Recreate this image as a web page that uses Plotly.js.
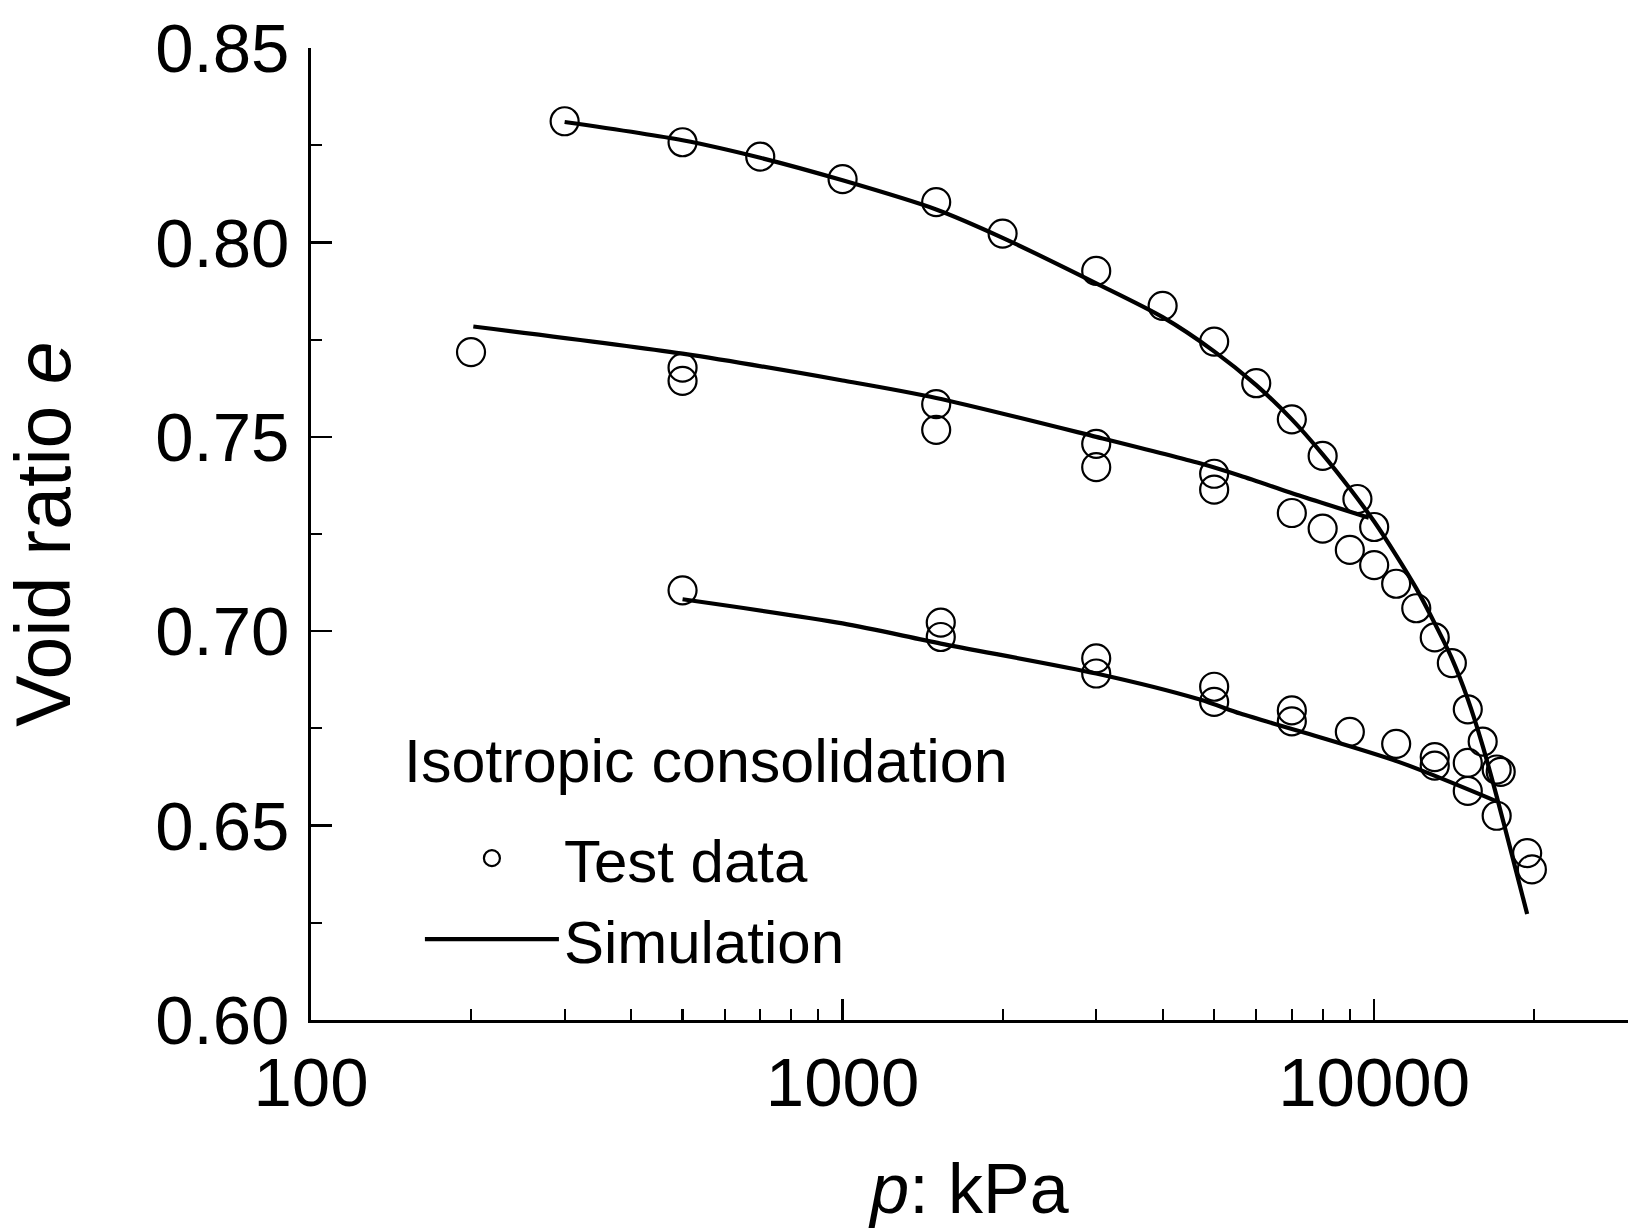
<!DOCTYPE html>
<html>
<head>
<meta charset="utf-8">
<script src="https://cdn.plot.ly/plotly-3.0.1.min.js"></script>
<style>html,body{margin:0;padding:0;background:#fff;}#chart{width:1632px;height:1230px;}</style>
</head>
<body>
<div id="chart"></div>
<script>
// ---- Test data (p in kPa, void ratio e) ----
const loadP = [300, 500, 700, 1000, 1500, 2000, 3000, 4000, 5000, 6000, 7000, 8000, 9300, 10000];
const loadE = [0.8312, 0.8258, 0.8221, 0.8163, 0.8104, 0.8023, 0.7927, 0.7837, 0.7745, 0.7638, 0.7545, 0.7451, 0.7340, 0.7268];

const unload1P = [200, 500, 500, 1500, 1500, 3000, 3000, 5000, 5000];
const unload1E = [0.7718, 0.7678, 0.7644, 0.7584, 0.7518, 0.7482, 0.7422, 0.7405, 0.7364];

const reloadP = [7000, 8000, 9000, 10000, 11000, 12000, 13000, 14000, 15000, 16000, 17000, 17300, 17000, 19400, 19800];
const reloadE = [0.7304, 0.7264, 0.7209, 0.7170, 0.7122, 0.7059, 0.6984, 0.6918, 0.6799, 0.6716, 0.6644, 0.6638, 0.6525, 0.6429, 0.6387];

const unload2P = [500, 1530, 1530, 3000, 3000, 5000, 5000, 7000, 7000, 9000, 11000, 13000, 13000, 15000, 15000];
const unload2E = [0.7105, 0.7022, 0.6985, 0.6930, 0.6891, 0.6857, 0.6818, 0.6796, 0.6768, 0.6741, 0.6710, 0.6676, 0.6654, 0.6661, 0.6589];

// ---- Simulation curves ----
const simNclP = [300, 500, 700, 1000, 1500, 2000, 3000, 4000, 5000, 6000, 7000, 8000, 9000, 10000, 11000, 12000, 13000, 14000, 15000, 16000, 17000, 18000, 19400];
const simNclE = [0.8310, 0.8263, 0.8218, 0.8160, 0.8085, 0.8012, 0.7895, 0.7808, 0.7720, 0.7633, 0.7545, 0.7455, 0.7367, 0.7282, 0.7195, 0.7110, 0.7020, 0.6930, 0.6825, 0.6705, 0.6575, 0.6445, 0.6272];

const simUn1P = [202, 500, 1000, 1500, 3000, 4700, 5600, 7300, 9770];
const simUn1E = [0.7784, 0.7714, 0.7645, 0.7600, 0.7500, 0.7432, 0.7400, 0.7347, 0.7292];

const simUn2P = [500, 1000, 1530, 3000, 4700, 5600, 7300, 11150, 17000];
const simUn2E = [0.7082, 0.7020, 0.6968, 0.6891, 0.6824, 0.6788, 0.6741, 0.6663, 0.6562];

// ---- Text ----
const xTitle = '<i>p</i>: kPa';
const yTitle = 'Void ratio <i>e</i>';
const legendTitle = 'Isotropic consolidation';
const nameData = 'Test data';
const nameSim = 'Simulation';

const FONT = 'Liberation Sans, Arial, Helvetica, sans-serif';

const markerStyle = {symbol: 'circle-open', size: 28, color: '#000', line: {color: '#000', width: 2.2}};
const lineStyle = {color: '#000', width: 4.2, shape: 'spline', smoothing: 0.8};

function pts(x, y, first) {
  return {x: x, y: y, type: 'scatter', mode: 'markers', name: nameData, legendgroup: 'data',
          showlegend: first, marker: markerStyle, hoverinfo: 'x+y'};
}
function sim(x, y, first) {
  return {x: x, y: y, type: 'scatter', mode: 'lines', name: nameSim, legendgroup: 'sim',
          showlegend: first, line: lineStyle, hoverinfo: 'x+y'};
}

const traces = [
  pts(loadP, loadE, true),
  pts(unload1P, unload1E, false),
  pts(reloadP, reloadE, false),
  pts(unload2P, unload2E, false),
  sim(simNclP, simNclE, true),
  sim(simUn1P, simUn1E, false),
  sim(simUn2P, simUn2E, false)
];

const layout = {
  width: 1632, height: 1230,
  margin: {l: 311, r: 4, t: 48, b: 210, pad: 0},
  paper_bgcolor: '#fff', plot_bgcolor: '#fff',
  font: {family: FONT, color: '#000', size: 69},
  showlegend: true,
  xaxis: {
    type: 'log', range: [2, 4.4775], dtick: 1, tickformat: 'd',
    showline: true, linecolor: '#000', linewidth: 2.7, mirror: false,
    showgrid: false, zeroline: false,
    ticks: 'inside', ticklen: 21, tickwidth: 2.5, tickcolor: '#000',
    tickfont: {family: FONT, size: 69, color: '#000'},
    minor: {dtick: 'D1', ticks: 'inside', ticklen: 11, tickwidth: 2.2, tickcolor: '#000', showgrid: false},
    title: {text: xTitle, font: {family: FONT, size: 70, color: '#000'}, standoff: 45}
  },
  yaxis: {
    range: [0.59995, 0.85005], tick0: 0.6, dtick: 0.05, tickformat: '.2f',
    showline: true, linecolor: '#000', linewidth: 2.7, mirror: false,
    showgrid: false, zeroline: false,
    ticks: 'inside', ticklen: 21, tickwidth: 2.5, tickcolor: '#000',
    ticklabelstandoff: 5,
    tickfont: {family: FONT, size: 69, color: '#000'},
    minor: {dtick: 0.025, ticks: 'inside', ticklen: 11, tickwidth: 2.2, tickcolor: '#000', showgrid: false},
    title: {text: yTitle, font: {family: FONT, size: 77, color: '#000'}, standoff: 62}
  },
  legend: {
    x: 0.0827, y: 0.2133, xanchor: 'left', yanchor: 'top',
    bgcolor: 'rgba(0,0,0,0)', borderwidth: 0,
    font: {family: FONT, size: 60, color: '#000'},
    itemwidth: 134, tracegroupgap: 0, itemclick: false, itemdoubleclick: false
  },
  annotations: [{
    text: legendTitle, xref: 'paper', yref: 'paper', x: 0.0691, y: 0.2668,
    xanchor: 'left', yanchor: 'middle', showarrow: false,
    font: {family: FONT, size: 61, color: '#000'}
  }]
};

Plotly.newPlot('chart', traces, layout, {displayModeBar: false, staticPlot: true});
</script>
</body>
</html>
